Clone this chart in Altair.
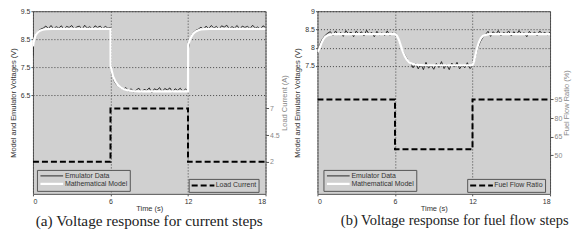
import altair as alt
import pandas as pd

# ---------------- data ----------------
series = ["Emulator Data", "Mathematical Model"]
x_ticks = [0, 6, 12, 18]

emu_t = [
    0, 0.02, 0.1, 0.2, 0.3, 0.4, 0.6, 0.8, 1.0, 1.2,
    1.4, 1.6, 1.8, 2.0, 2.2, 2.4, 2.6, 2.8, 3.0, 3.2,
    3.4, 3.6, 3.8, 4.0, 4.2, 4.4, 4.6, 4.8, 5.0, 5.2,
    5.4, 5.6, 5.8, 6.0, 6.02, 6.1, 6.2, 6.3, 6.4, 6.6,
    6.8, 7.0, 7.2, 7.4, 7.6, 7.8, 8.0, 8.2, 8.4, 8.6,
    8.8, 9.0, 9.2, 9.4, 9.6, 9.8, 10.0, 10.2, 10.4, 10.6,
    10.8, 11.0, 11.2, 11.4, 11.6, 11.8, 12.0, 12.02, 12.1, 12.2,
    12.3, 12.4, 12.6, 12.8, 13.0, 13.2, 13.4, 13.6, 13.8, 14.0,
    14.2, 14.4, 14.6, 14.8, 15.0, 15.2, 15.4, 15.6, 15.8, 16.0,
    16.2, 16.4, 16.6, 16.8, 17.0, 17.2, 17.4, 17.6, 17.8, 18.0,
]

# (a) current steps
emu_a_v = [
    7.9, 8.3, 8.5, 8.65, 8.75, 8.8, 8.86, 8.9, 8.97, 8.88,
    8.99, 8.87, 8.95, 8.9, 8.98, 8.84, 8.96, 8.92, 8.99, 8.87,
    8.94, 8.97, 8.85, 9.0, 8.9, 8.95, 8.86, 8.98, 8.92, 8.97,
    8.88, 8.96, 8.9, 8.92, 7.6, 7.3, 7.15, 7.0, 6.92, 6.82,
    6.76, 6.73, 6.78, 6.66, 6.74, 6.63, 6.7, 6.76, 6.62, 6.72,
    6.68, 6.77, 6.6, 6.74, 6.69, 6.78, 6.63, 6.75, 6.7, 6.77,
    6.62, 6.74, 6.68, 6.76, 6.64, 6.73, 6.66, 8.1, 8.4, 8.55,
    8.66, 8.74, 8.82, 8.86, 8.93, 8.85, 8.97, 8.88, 8.99, 8.9,
    8.96, 8.86, 8.98, 8.93, 9.0, 8.87, 8.95, 8.9, 8.99, 8.85,
    8.97, 8.92, 8.96, 8.88, 9.0, 8.9, 8.94, 8.86, 8.98, 8.92,
]
model_a_t = [0, 0.1, 0.2, 0.35, 0.5, 0.75, 1.0, 1.5,
             6.0, 6.01, 6.2, 6.4, 6.6, 6.8, 7.0, 7.3, 7.7, 8.2,
             12.0, 12.01, 12.2, 12.4, 12.6, 12.8, 13.0, 13.3, 13.7, 18.0]
model_a_v = [8.25, 8.5, 8.64, 8.74, 8.8, 8.84, 8.86, 8.87,
             8.87, 7.55, 7.18, 6.98, 6.86, 6.78, 6.73, 6.69, 6.66, 6.65,
             6.65, 8.3, 8.55, 8.7, 8.78, 8.82, 8.85, 8.86, 8.87, 8.87]
load_t = [0, 6, 12, 18]
load_a = [2, 7, 2, 2]

# (b) fuel flow steps
emu_b_v = [
    7.86, 7.88, 7.99, 8.1, 8.18, 8.25, 8.34, 8.4, 8.44, 8.33,
    8.46, 8.35, 8.42, 8.31, 8.47, 8.38, 8.43, 8.3, 8.46, 8.36,
    8.44, 8.32, 8.48, 8.37, 8.42, 8.3, 8.45, 8.35, 8.41, 8.33,
    8.46, 8.34, 8.4, 8.37, 8.36, 8.34, 8.3, 8.22, 8.1, 7.92,
    7.78, 7.66, 7.6, 7.45, 7.58, 7.42, 7.55, 7.4, 7.6, 7.44,
    7.52, 7.41, 7.57, 7.46, 7.62, 7.43, 7.54, 7.4, 7.58, 7.47,
    7.6, 7.42, 7.53, 7.45, 7.59, 7.43, 7.5, 7.53, 7.58, 7.72,
    7.85, 7.98, 8.16, 8.28, 8.36, 8.45, 8.31, 8.44, 8.36, 8.47,
    8.33, 8.42, 8.38, 8.46, 8.32, 8.44, 8.35, 8.47, 8.37, 8.41,
    8.3, 8.45, 8.36, 8.43, 8.33, 8.46, 8.38, 8.42, 8.35, 8.44,
]
model_b_t = [0, 0.15, 0.3, 0.45, 0.6, 0.8, 1.0, 1.3,
             6.0, 6.15, 6.3, 6.45, 6.6, 6.75, 6.9, 7.1, 7.4, 7.8, 8.3,
             12.0, 12.1, 12.2, 12.35, 12.5, 12.65, 12.8, 13.0, 13.3, 18.0]
model_b_v = [7.88, 7.98, 8.12, 8.23, 8.3, 8.34, 8.36, 8.37,
             8.37, 8.33, 8.22, 8.06, 7.9, 7.77, 7.68, 7.6, 7.55, 7.53, 7.52,
             7.52, 7.6, 7.75, 7.98, 8.15, 8.26, 8.32, 8.35, 8.37, 8.37]
fuel_t = [0, 6, 12, 18]
fuel_b = [95, 55, 95, 95]

volt_ticks_a = [6.5, 7.5, 8.5, 9.5]
volt_ticks_b = [7.5, 8, 8.5, 9]
load_ticks = [2, 4.5, 7]
fuel_ticks = [50, 65, 80, 95]

# ---------------- styling ----------------
BG = "#d0d0d0"
SYM = "M-1,0L5.5,0"
W, H = 233, 183


def volt_df(emu_v, model_t, model_v):
    a = pd.DataFrame({"t": emu_t, "v": emu_v, "series": series[0]})
    b = pd.DataFrame({"t": model_t, "v": model_v, "series": series[1]})
    return pd.concat([a, b], ignore_index=True)


def series_legend(x, y):
    return alt.Legend(
        title=None, orient="none", legendX=x, legendY=y,
        fillColor=BG, strokeColor="#555", padding=2, rowPadding=0,
        symbolType=SYM, symbolSize=49, labelFontSize=7,
        labelColor="#333", labelOffset=16, labelLimit=200,
    )


def panel(vdf, vdomain, vticks, sdf, sname, sdomain, sticks, stitle,
          caption, cap_size, cap_dx, leg1, leg2):
    xenc = alt.X(
        "t:Q", scale=alt.Scale(domain=[0, 18], nice=False),
        axis=alt.Axis(values=x_ticks, title="Time (s)", grid=True,
                      gridDash=[1, 2], gridColor="#444", tickSize=2,
                      labelColor="#333", titleColor="#333", labelPadding=2,
                      titlePadding=0),
    )
    volt = alt.Chart(vdf).mark_line(clip=True).encode(
        x=xenc,
        y=alt.Y("v:Q", scale=alt.Scale(domain=vdomain, nice=False, zero=False),
                axis=alt.Axis(values=vticks, format=".2~f",
                              title="Model and Emulator Voltages (V)",
                              orient="left", grid=True, gridDash=[1, 2],
                              gridColor="#444", tickSize=2, labelPadding=1,
                              titlePadding=3, labelColor="#333",
                              titleColor="#333")),
        color=alt.Color(
            "series:N",
            scale=alt.Scale(domain=series, range=["#2a2a2a", "#ffffff"]),
            legend=series_legend(*leg1),
        ),
        strokeWidth=alt.StrokeWidth(
            "series:N", scale=alt.Scale(domain=series, range=[1, 2.2]),
            legend=series_legend(*leg1)),
    )
    step = alt.Chart(sdf).mark_line(interpolate="step-after", color="black",
                                    strokeWidth=2, clip=True).encode(
        x=alt.X("t:Q"),
        y=alt.Y("s:Q", scale=alt.Scale(domain=sdomain, nice=False, zero=False),
                axis=alt.Axis(values=sticks, format=".1~f", title=stitle,
                              orient="right", grid=False, tickSize=3,
                              labelPadding=1, titlePadding=1, titleAngle=270,
                              titleBaseline="top",
                              labelColor="#888", titleColor="#888")),
        strokeDash=alt.StrokeDash(
            "name:N", scale=alt.Scale(domain=[sname], range=[[6, 3]]),
            legend=alt.Legend(
                title=None, orient="none", legendX=leg2[0], legendY=leg2[1],
                fillColor=BG, strokeColor="#555", padding=2,
                symbolType=SYM, symbolSize=49, symbolStrokeWidth=2,
                symbolStrokeColor="black", labelFontSize=7,
                labelColor="#333", labelOffset=16, labelLimit=200)),
    )
    return alt.layer(volt, step).resolve_scale(y="independent").properties(
        width=W, height=H,
        title=alt.TitleParams(caption, orient="bottom", font="Liberation Serif",
                              fontSize=cap_size, fontWeight="normal",
                              color="#222", offset=2, dx=cap_dx),
    )


left = panel(
    volt_df(emu_a_v, model_a_t, model_a_v), [3, 9.5], volt_ticks_a,
    pd.DataFrame({"t": load_t, "s": load_a, "name": "Load Current"}),
    "Load Current", [-1, 16.1], load_ticks, "Load Current (A)",
    "(a)  Voltage response for current steps", 15.3, 0, (4, 159), (156, 168),
)
right = panel(
    volt_df(emu_b_v, model_b_t, model_b_v), [4, 9], volt_ticks_b,
    pd.DataFrame({"t": fuel_t, "s": fuel_b, "name": "Fuel Flow Ratio"}),
    "Fuel Flow Ratio", [19, 166], fuel_ticks, "Fuel Flow Ratio (%)",
    "(b)  Voltage response for fuel flow steps", 14.5, 21, (6, 159), (150, 168),
)

chart = alt.hconcat(left, right, spacing=52, bounds="flush").resolve_scale(
    color="independent", strokeWidth="independent", strokeDash="independent"
).resolve_legend(
    color="independent", strokeWidth="independent", strokeDash="independent"
).properties(
    padding={"left": 0, "top": -2, "right": 0, "bottom": 0}
).configure(font="Liberation Sans").configure_view(
    fill=BG, stroke="#555", strokeWidth=1
).configure_axis(
    labelFontSize=7, titleFontSize=7.5, titleFontWeight="normal",
    domain=False, tickColor="#555"
)

chart.save("out.html", embed_options={"renderer": "svg", "actions": False})
